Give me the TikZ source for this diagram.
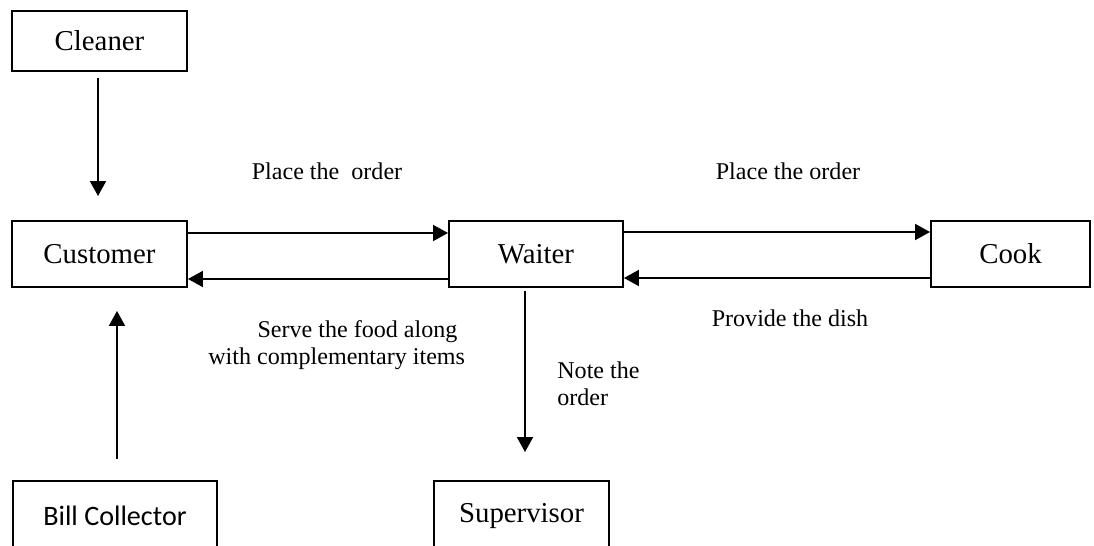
\documentclass[tikz,border=0pt]{standalone}
\usepackage{fontspec}
\setmainfont{Liberation Serif}
\newfontfamily\billfont{Carlito}
\usetikzlibrary{arrows.meta}
\newdimen\pxu \pxu=0.569pt

\begin{document}
\begin{tikzpicture}[x=0.02cm,y=-0.02cm,
    box/.style={draw,line width=1.1pt,inner sep=0pt,font=\fontsize{16.4}{19}\selectfont},
    flow/.style={line width=1.3pt,-{Triangle[length=8.5pt,width=9pt]}},
    note/.style={inner sep=0pt,font=\fontsize{13.7}{15.5}\selectfont}]
     \useasboundingbox (0,0) rectangle (1094,546);
     \clip (0,0) rectangle (1094,546);
     % boxes
     \node[box,minimum width=175\pxu,minimum height=60\pxu] (cleaner)  at ( 99.5, 41) {Cleaner};
     \node[box,minimum width=175\pxu,minimum height=66\pxu] (customer) at ( 99.5,254) {Customer};
     \node[box,minimum width=174\pxu,minimum height=66\pxu] (waiter)   at (536.0,254) {Waiter};
     \node[box,minimum width=159\pxu,minimum height=66\pxu] (cook)     at (1010.5,254) {Cook};
     \node[box,minimum width=204\pxu,minimum height=70\pxu,font=\billfont\fontsize{16}{19}\selectfont] (bill) at (115,516) {Bill Collector};
     \node[box,minimum width=175\pxu,minimum height=70\pxu] (super)    at (521.5,516) {Supervisor};
     % arrows
     \draw[flow,shorten <=6\pxu,shorten >=24\pxu] (cleaner.south -| 98,0) -- (customer.north -| 98,0);
     \draw[flow] (customer.east |- 0,233) -- (waiter.west |- 0,233);
     \draw[flow] (waiter.west |- 0,279) -- (customer.east |- 0,279);
     \draw[flow] (waiter.east |- 0,232) -- (cook.west |- 0,232);
     \draw[flow] (cook.west |- 0,278) -- (waiter.east |- 0,278);
     \draw[flow,shorten <=3\pxu,shorten >=28\pxu] (waiter.south -| 525,0) -- (super.north -| 525,0);
     \draw[flow,shorten <=21\pxu,shorten >=23\pxu] (bill.north -| 117,0) -- (customer.south -| 117,0);
     % labels
     \node[note] (place1) at (327,171) {Place the \ order};
     \node[note] (place2) at (788,171) {Place the order};
     \node[note,align=left,anchor=west] (serve) at (208,345) {\hspace*{28pt}Serve the food along\\with complementary items};
     \node[note] (dish) at (790,318) {Provide the dish};
     \node[note,align=left,anchor=west] (notes) at (557,384) {Note the\\order};
\end{tikzpicture}
\end{document}
